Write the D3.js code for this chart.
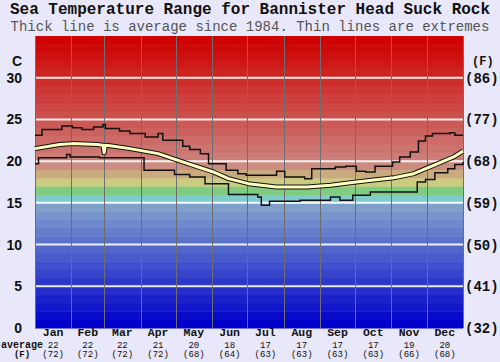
<!DOCTYPE html>
<html>
<head>
<meta charset="utf-8">
<script src="https://cdn.jsdelivr.net/npm/d3@7"></script>
<style>
  body { margin: 0; background: #e8e8fa; }
  svg { display: block; }
</style>
</head>
<body>
<div id="chart"></div>
<script>
// month names and lengths
const months = ["Jan","Feb","Mar","Apr","May","Jun","Jul","Aug","Sep","Oct","Nov","Dec"]
const monthDays = [31,28,31,30,31,30,31,31,30,31,30,31]
const avgC = [22,22,22,21,20,18,17,17,17,17,19,20]
const avgF = [72,72,72,72,68,64,63,63,63,63,66,68]

const cTicks = [0,5,10,15,20,25,30]
const fTicks = [32,41,50,59,68,77,86]

// [day of year, temp C]
const maxLine = [[0,23.1],[6,23.8],[23,24.2],[32,24.0],[40,23.8],[50,24.1],[58,24.4],[60,23.9],[72,23.6],
  [81,23.3],[94,22.9],[105,23.3],[109,22.5],[126,21.8],[132,21.4],[141,20.9],[148,19.7],[163,18.9],
  [173,18.5],[180,18.3],[206,18.8],[213,18.1],[230,17.9],[236,19.1],[256,19.3],[265,19.4],[274,18.8],
  [282,18.7],[290,19.4],[305,19.9],[311,20.5],[320,21.1],[327,22.4],[333,23.0],[339,23.3],[354,23.4],
  [358,23.1],[365,23.1]]

const minLine = [[0,19.7],[3,20.4],[27,20.8],[30,20.5],[55,20.4],[93,18.9],[119,18.4],[132,18.1],
  [145,17.3],[165,16.0],[190,15.7],[193,14.7],[200,15.2],[226,15.3],[252,15.7],[260,15.3],[271,15.9],
  [286,16.3],[326,17.5],[333,17.8],[341,18.6],[352,19.1],[358,19.6],[365,19.9]]

const avgLine = [[0,21.5],[21,22.0],[32,22.1],[53,22.0],[58,21.9],[59,21.0],[60,21.9],[64,21.85],
  [81,21.5],[105,20.9],[122,20.1],[139,19.3],[152,18.7],[165,17.9],[182,17.3],[206,16.9],[232,16.9],
  [252,17.1],[274,17.5],[306,18.0],[323,18.5],[340,19.5],[357,20.5],[365,21.2]]

const W = 500, H = 362
const M = { TOP: 36, BOTTOM: 34, LEFT: 35, RIGHT: 37 }

const svg = d3.select("#chart").append("svg")
  .attr("width", W).attr("height", H)

svg.append("rect").attr("width", W).attr("height", H).attr("fill", "#e8e8fa")

const x = d3.scaleLinear().domain([0, 365]).range([M.LEFT, W - M.RIGHT])
const y = d3.scaleLinear().domain([0, 35]).range([H - M.BOTTOM, M.TOP])

// band colours, one per degree
function bandColor(t) {
  if (t < 15) return d3.interpolateRgb("rgb(0,0,204)", "rgb(128,160,204)")(t / 14)
  if (t === 15) return "rgb(128,204,204)"
  if (t === 16) return "rgb(128,204,128)"
  if (t === 17) return "rgb(204,204,128)"
  if (t === 18) return "rgb(204,170,128)"
  if (t === 19) return "rgb(204,140,128)"
  return d3.interpolateRgb("rgb(204,125,120)", "rgb(206,0,0)")((t - 20) / 14)
}

svg.append("g").selectAll("rect")
  .data(d3.range(0, 35))
  .join("rect")
    .attr("x", x(0))
    .attr("width", x(365) - x(0))
    .attr("y", d => y(d + 1))
    .attr("height", d => y(d) - y(d + 1) + 0.5)
    .attr("fill", d => bandColor(d))

// white grid lines
svg.append("g").selectAll("line")
  .data(cTicks.filter(d => d > 0))
  .join("line")
    .attr("x1", x(0)).attr("x2", x(365))
    .attr("y1", d => y(d)).attr("y2", d => y(d))
    .attr("stroke", "#fff").attr("stroke-opacity", 0.9).attr("stroke-width", 2)

// month boundaries
const monthStart = d3.cumsum([0].concat(monthDays))
svg.append("g").selectAll("line")
  .data(monthStart)
  .join("line")
    .attr("x1", d => Math.round(x(d)) + 0.5).attr("x2", d => Math.round(x(d)) + 0.5)
    .attr("y1", y(35)).attr("y2", y(0))
    .attr("stroke", "#6e6e6e").attr("stroke-width", 1)

// lines
const stepLine = d3.line().x(d => x(d[0])).y(d => y(d[1])).curve(d3.curveStepAfter)
const avgPath = d3.line().x(d => x(d[0])).y(d => y(d[1]))

svg.append("path").datum(maxLine).attr("d", stepLine)
  .attr("fill", "none").attr("stroke", "#111").attr("stroke-width", 1.5)
svg.append("path").datum(minLine).attr("d", stepLine)
  .attr("fill", "none").attr("stroke", "#111").attr("stroke-width", 1.5)
svg.append("path").datum(avgLine).attr("d", avgPath)
  .attr("fill", "none").attr("stroke", "#111").attr("stroke-width", 5).attr("stroke-linejoin", "round")
svg.append("path").datum(avgLine).attr("d", avgPath)
  .attr("fill", "none").attr("stroke", "#ffffbe").attr("stroke-width", 3).attr("stroke-linejoin", "round")

// left axis (C)
const left = svg.append("g")
  .attr("font-family", "'Liberation Sans', Arial, sans-serif")
  .attr("font-weight", "bold").attr("font-size", 14).attr("fill", "#111")
left.selectAll("text")
  .data(cTicks)
  .join("text")
    .attr("x", 22).attr("y", d => y(d)).attr("dy", "0.36em")
    .attr("text-anchor", "end")
    .text(d => d)
left.append("text").attr("x", 22).attr("y", y(32)).attr("dy", "0.36em")
  .attr("text-anchor", "end").text("C")

// right axis (F)
const right = svg.append("g")
  .attr("font-family", "'Liberation Mono', 'Courier New', monospace")
  .attr("font-weight", "bold").attr("font-size", 14).attr("fill", "#111")
right.selectAll("text")
  .data(fTicks)
  .join("text")
    .attr("x", 465).attr("y", (d, i) => y(cTicks[i])).attr("dy", "0.36em")
    .text(d => "(" + d + ")")
right.append("text").attr("x", 472).attr("y", y(32)).attr("dy", "0.36em")
  .attr("font-size", 12).text("(F)")

// month labels and averages
const bottom = svg.append("g")
  .attr("font-family", "'Liberation Mono', 'Courier New', monospace")
  .attr("font-weight", "bold").attr("fill", "#111").attr("text-anchor", "middle")
months.forEach((m, i) => {
  const cx = x(monthStart[i] + monthDays[i] / 2)
  bottom.append("text").attr("x", cx).attr("y", 336).attr("font-size", 11.5).text(m)
  bottom.append("text").attr("x", cx).attr("y", 348).attr("font-size", 9).attr("font-weight", "normal").text(avgC[i])
  bottom.append("text").attr("x", cx).attr("y", 357).attr("font-size", 9).attr("font-weight", "normal").text("(" + avgF[i] + ")")
})
bottom.append("text").attr("x", 22).attr("y", 348).attr("font-size", 10).text("average")
bottom.append("text").attr("x", 22).attr("y", 357).attr("font-size", 9).text("(F)")

// titles
svg.append("text").attr("x", W / 2).attr("y", 14)
  .attr("text-anchor", "middle")
  .attr("font-family", "'Liberation Mono', 'Courier New', monospace")
  .attr("font-weight", "bold").attr("font-size", 16).attr("fill", "#111")
  .text("Sea Temperature Range for Bannister Head Suck Rock")
svg.append("text").attr("x", W / 2).attr("y", 31)
  .attr("text-anchor", "middle")
  .attr("font-family", "'Liberation Mono', 'Courier New', monospace")
  .attr("font-size", 14).attr("fill", "#555")
  .text("Thick line is average since 1984. Thin lines are extremes")
</script>
</body>
</html>
